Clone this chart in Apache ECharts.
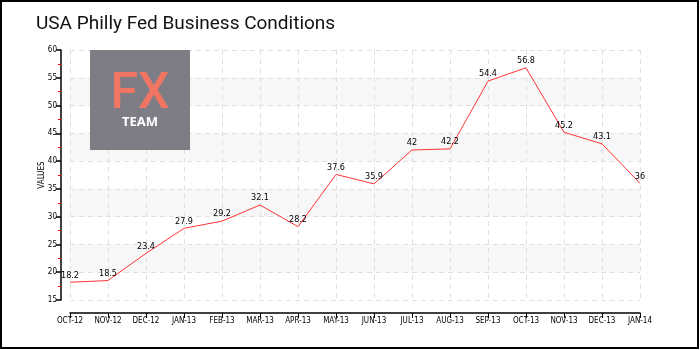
<!DOCTYPE html>
<html>
<head>
<meta charset="utf-8">
<script src="https://cdn.jsdelivr.net/npm/echarts@6/dist/echarts.min.js"></script>
<style>html,body{margin:0;padding:0;background:#fff}#c{width:700px;height:350px}</style>
</head>
<body>
<div id="c"></div>
<script>
var categories = ['OCT-12','NOV-12','DEC-12','JAN-13','FEB-13','MAR-13','APR-13','MAY-13','JUN-13','JUL-13','AUG-13','SEP-13','OCT-13','NOV-13','DEC-13','JAN-14'];
var values = [18.2, 18.5, 23.4, 27.9, 29.2, 32.1, 28.2, 37.6, 35.9, 42, 42.2, 54.4, 56.8, 45.2, 43.1, 36];
var titleText = 'USA Philly Fed Business Conditions';
var yName = 'VALUES';

var chart = echarts.init(document.getElementById('c'));
var lbl = {fontFamily: 'DejaVu Sans Condensed', fontSize: 8, color: '#000'};
chart.setOption({
  animation: false,
  title: {text: titleText, left: 31, top: 10, textStyle: {fontFamily: 'Roboto', fontWeight: 'normal', fontSize: 19, color: '#111'}},
  grid: {left: 70, right: 60, top: 50, bottom: 50},
  xAxis: {
    type: 'category', data: categories, boundaryGap: false, offset: 13,
    axisLine: {show: true, lineStyle: {color: '#000', width: 1.5}},
    axisTick: {show: true, alignWithLabel: true, length: 5, lineStyle: {color: '#000'}},
    axisLabel: Object.assign({margin: 4, interval: 0}, lbl),
    splitLine: {show: true, lineStyle: {color: '#e0e0e0', type: [5, 4]}}
  },
  yAxis: {
    type: 'value', min: 15, max: 60, interval: 5, offset: 9,
    axisLine: {show: true, lineStyle: {color: '#000', width: 1.5}},
    axisTick: {show: true, length: 5, lineStyle: {color: '#000', width: 1.5}},
    minorTick: {show: true, splitNumber: 2, length: 3, lineStyle: {color: '#e00'}},
    axisLabel: Object.assign({margin: 4}, lbl),
    splitLine: {show: true, lineStyle: {color: '#e0e0e0', type: [5, 4]}},
    splitArea: {show: true, areaStyle: {color: ['rgba(255,255,255,0)', '#f7f7f7']}}
  },
  series: [{
    type: 'line', data: values, showSymbol: true, symbol: 'circle', symbolSize: 1,
    itemStyle: {color: 'rgba(255,51,51,0)'},
    lineStyle: {color: '#ff3333', width: 1},
    label: {show: true, position: 'top', distance: 2, fontFamily: 'DejaVu Sans Condensed', fontSize: 9, color: '#000'},
    z: 5
  }],
  graphic: [
    {type: 'rect', shape: {x: 1, y: 1, width: 697, height: 347}, style: {fill: 'none', stroke: '#000', lineWidth: 2}, z: 100},
    {type: 'text', x: 42, y: 175, rotation: Math.PI / 2, style: {text: yName, fill: '#000', font: '8px "DejaVu Sans Condensed"', textAlign: 'center', textVerticalAlign: 'middle'}},
    {type: 'rect', shape: {x: 90, y: 50, width: 100, height: 100}, style: {fill: '#7e7d85'}, z: 10},
    {type: 'text', x: 140, y: 95, style: {text: 'FX', fill: '#f07563', font: '500 50px Roboto, sans-serif', textAlign: 'center', textVerticalAlign: 'middle', letterSpacing: 8}, z: 11},
    {type: 'text', x: 140, y: 122, style: {text: 'TEAM', fill: '#fff', font: 'bold 13px "Noto Sans", sans-serif', textAlign: 'center', textVerticalAlign: 'middle', letterSpacing: 1}, z: 11}
  ]
});
</script>
</body>
</html>
